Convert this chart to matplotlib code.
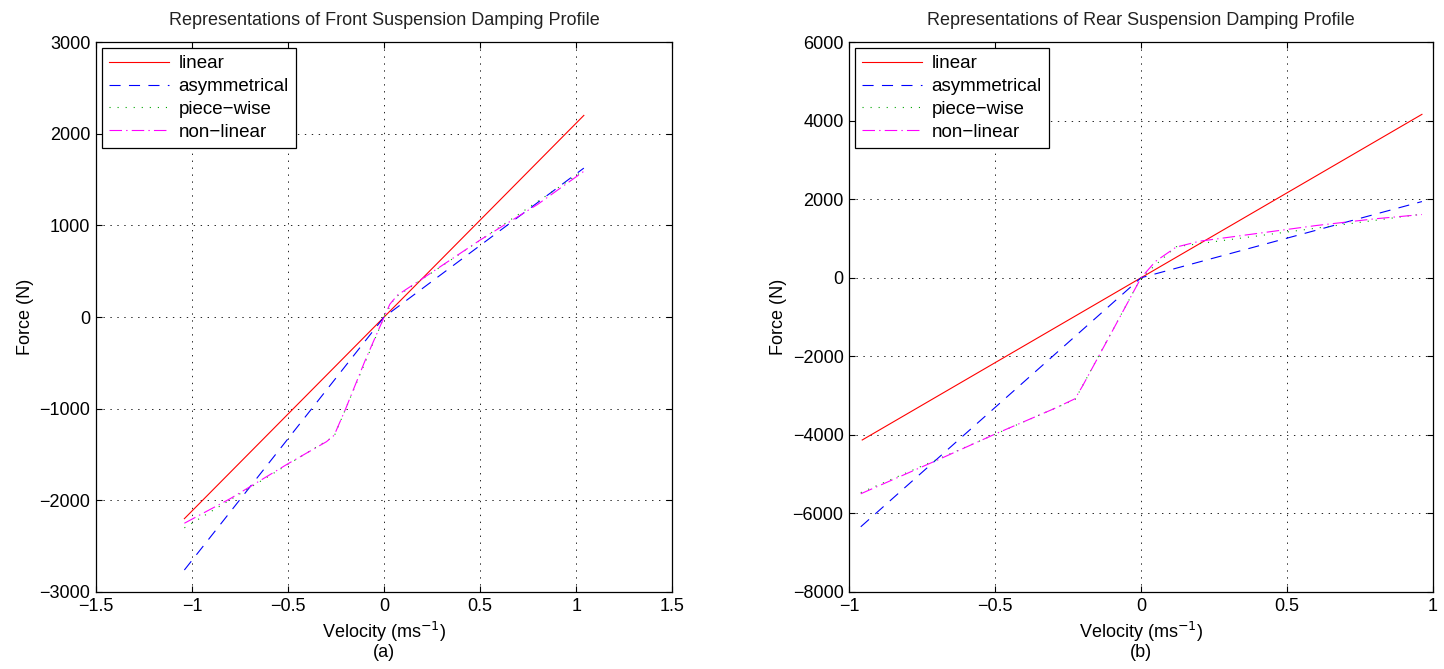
import numpy as np
import matplotlib
matplotlib.use('Agg')
import matplotlib.pyplot as plt

plt.rcParams['font.family'] = ['Liberation Sans', 'DejaVu Sans']
plt.rcParams['lines.scale_dashes'] = False

# front damper (a)
v_front_lin = [-1.04, 1.04]
f_front_lin = [-2200, 2200]
v_front_asym = [-1.04, 0.0, 1.04]
f_front_asym = [-2760, 0, 1625]
v_front_pw = [-1.04, -0.26, 0.0, 0.055, 1.04]
f_front_pw = [-2300, -1300, 0, 210, 1600]
v_front_nl = [-1.04, -0.8, -0.5, -0.3, -0.26, -0.2, -0.1, 0.0, 0.03, 0.07, 0.2, 0.5, 0.8, 1.04]
f_front_nl = [-2250, -1980, -1600, -1360, -1290, -1000, -480, 0, 140, 240, 420, 840, 1230, 1590]

# rear damper (b)
v_rear_lin = [-0.955, 0.962]
f_rear_lin = [-4130, 4160]
v_rear_asym = [-0.96, 0.0, 0.962]
f_rear_asym = [-6340, 0, 1940]
v_rear_pw = [-0.96, -0.226, 0.0, 0.12, 0.962]
f_rear_pw = [-5470, -3100, 0, 790, 1620]
v_rear_nl = [-0.96, -0.7, -0.5, -0.3, -0.226, -0.2, -0.1, 0.0, 0.05, 0.12, 0.2, 0.4, 0.6, 0.8, 0.962]
f_rear_nl = [-5500, -4650, -3980, -3340, -3080, -2750, -1380, 0, 420, 780, 930, 1130, 1330, 1500, 1610]

labels = ['linear', 'asymmetrical', 'piece\u2212wise', 'non\u2212linear']


def draw(ax, lin, asym, pw, nl, title, tag, xlim, ylim, xt, yt):
    ax.plot(lin[0], lin[1], color='r', lw=0.8, label=labels[0])
    ax.plot(asym[0], asym[1], color='b', lw=0.8, dashes=(8, 6), label=labels[1])
    ax.plot(pw[0], pw[1], color=(0, 0.65, 0), lw=0.8, dashes=(0.8, 5), label=labels[2])
    ax.plot(nl[0], nl[1], color=(1, 0, 1), lw=0.8, dashes=(9, 3, 1, 3), label=labels[3])
    ax.set_xlim(xlim)
    ax.set_ylim(ylim)
    ax.set_xticks(xt)
    ax.set_yticks(yt)
    ax.grid(True, color='k', linestyle=(0, (1, 4)), linewidth=0.6)
    ax.tick_params(direction='in', top=True, right=True, length=4, labelsize=13, pad=4)
    for s in ax.spines.values():
        s.set_linewidth(0.9)
    ax.set_title(title, fontsize=13, pad=12, color='#222222')
    ax.set_xlabel('Velocity (ms$^{-1}$)\n' + tag, fontsize=13, linespacing=1.0)
    ax.set_ylabel('Force (N)', fontsize=13)
    leg = ax.legend(loc='upper left', fontsize=13.5, fancybox=False, edgecolor='k',
                    framealpha=1, handlelength=3.2, borderaxespad=0.3,
                    labelspacing=0.3, handletextpad=0.5, borderpad=0.4)
    leg.get_frame().set_linewidth(0.9)


fig = plt.figure(figsize=(14.44, 6.69), dpi=100)
ax1 = fig.add_axes([0.0665, 0.1151, 0.399, 0.822])
ax2 = fig.add_axes([0.588, 0.1151, 0.4044, 0.822])

draw(ax1, (v_front_lin, f_front_lin), (v_front_asym, f_front_asym),
     (v_front_pw, f_front_pw), (v_front_nl, f_front_nl),
     'Representations of Front Suspension Damping Profile', '(a)',
     (-1.5, 1.5), (-3000, 3000), np.arange(-1.5, 1.51, 0.5), np.arange(-3000, 3001, 1000))
draw(ax2, (v_rear_lin, f_rear_lin), (v_rear_asym, f_rear_asym),
     (v_rear_pw, f_rear_pw), (v_rear_nl, f_rear_nl),
     'Representations of Rear Suspension Damping Profile', '(b)',
     (-1, 1), (-8000, 6000), np.arange(-1, 1.01, 0.5), np.arange(-8000, 6001, 2000))

ax1.set_xticklabels(['\u22121.5', '\u22121', '\u22120.5', '0', '0.5', '1', '1.5'])
ax2.set_xticklabels(['\u22121', '\u22120.5', '0', '0.5', '1'])

fig.savefig('out.png', dpi=100)
